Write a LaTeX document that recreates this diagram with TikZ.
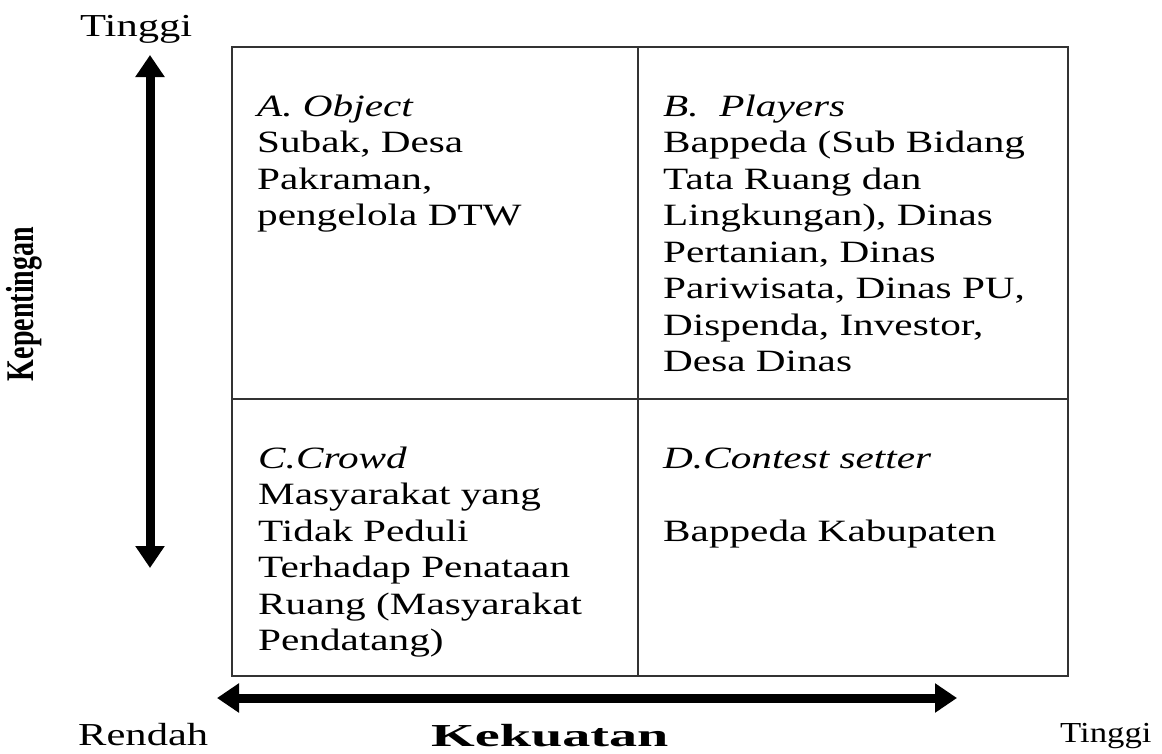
\documentclass[tikz,border=0pt]{standalone}
\usepackage{fontspec}
\setmainfont[FakeStretch=1.33]{Liberation Serif}
\newfontfamily\uprightserif{Liberation Serif}
\usetikzlibrary{arrows.meta}

\tikzset{
    quadtext/.style={anchor=base west, align=left, inner sep=0pt,
        font=\fontsize{31}{36.5}\selectfont},
    axislabel/.style={anchor=base west, inner sep=0pt,
        font=\fontsize{32}{36}\selectfont},
    gridline/.style={line width=1.4pt, black!80},
    axisarrow/.style={line width=9pt,
        {Triangle[length=22pt,width=28pt]}-{Triangle[length=22pt,width=28pt]}},
}

\begin{document}
\begin{tikzpicture}[x=1pt, y=-1pt]
    \fill[white] (0,0) rectangle (1162,753);
    \useasboundingbox (0,0) rectangle (1162,753);

    % the four quadrants
    \draw[gridline] (232,47) rectangle (1068,676);
    \draw[gridline] (638,47) -- (638,676);
    \draw[gridline] (232,399) -- (1068,399);

    % base anchor sits on the last line of each block
    \node[quadtext] (object) at (257,225.5)
        {\textit{A. Object}\\Subak, Desa\\Pakraman,\\pengelola DTW};
    \node[quadtext] (players) at (663,371.5)
        {\textit{B.\ \ Players}\\Bappeda (Sub Bidang\\Tata Ruang dan\\Lingkungan), Dinas\\Pertanian, Dinas\\Pariwisata, Dinas PU,\\Dispenda, Investor,\\Desa Dinas};
    \node[quadtext] (crowd) at (258,650.5)
        {\textit{C.Crowd}\\Masyarakat yang\\Tidak Peduli\\Terhadap Penataan\\Ruang (Masyarakat\\Pendatang)};
    \node[quadtext] (setter) at (663,541)
        {\textit{D.Contest setter}\\\mbox{}\\Bappeda Kabupaten};

    % axes
    \coordinate (imp top) at (150,55);
    \coordinate (imp bottom) at (150,568);
    \coordinate (pow left) at (217,698);
    \coordinate (pow right) at (957,698);
    \draw[axisarrow] (imp top) -- (imp bottom);
    \draw[axisarrow] (pow left) -- (pow right);

    \node[axislabel] (imp high) at (80,36) {Tinggi};
    \node[font=\uprightserif\bfseries\fontsize{28}{30}\selectfont, rotate=90, inner sep=0pt]
        (importance) at (24,304) {\scalebox{1}[1.4]{Kepentingan}};
    \node[axislabel] (pow low) at (78,745) {Rendah};
    \node[axislabel, font=\bfseries\fontsize{32}{36}\selectfont] (power) at (431,746)
        {\scalebox{1.32}[1]{Kekuatan}};
    \node[axislabel, font=\fontsize{29}{32}\selectfont] (pow high) at (1060,742)
        {\scalebox{0.9}[1]{Tinggi}};
\end{tikzpicture}
\end{document}
